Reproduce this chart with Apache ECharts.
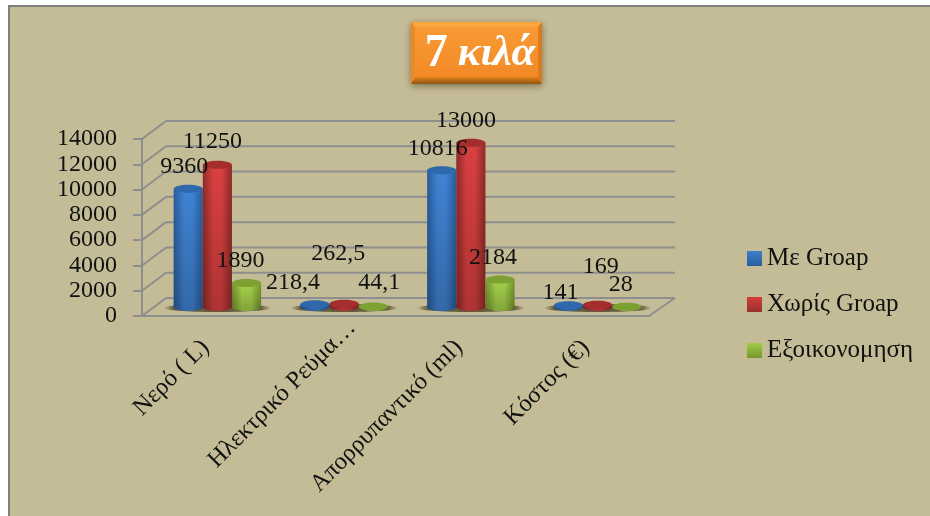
<!DOCTYPE html>
<html>
<head>
<meta charset="utf-8">
<style>
html,body{margin:0;padding:0;background:#fff;}
#main{width:930px;height:516px;}
</style>
<script src="https://cdn.jsdelivr.net/npm/echarts@6/dist/echarts.min.js"></script>
</head>
<body>
<div id="main"></div>
<script>
var categories = ['Νερό ( L)', 'Ηλεκτρικό Ρεύμα…', 'Απορρυπαντικό (ml)', 'Κόστος (€)'];
var withGroap = [9360, 218.4, 10816, 141];
var withoutGroap = [11250, 262.5, 13000, 169];
var saving = [1890, 44.1, 2184, 28];
var seriesNames = ['Με Groap', 'Χωρίς Groap', 'Εξοικονομηση'];
var yTicks = [0, 2000, 4000, 6000, 8000, 10000, 12000, 14000];

// fake 3d: how far the back wall sits from the front of the floor
var depthX = 24, depthY = 18;
var barShare = 0.23;
var serif = '"Liberation Serif", serif';
var gridColor = '#8e8e8e';

// label nudges from the default spot above each cylinder, [dx, dy]
var labelNudge = [
  [[-4, 0], [-5, -1], [-6, 0]],
  [[-22, 0], [-6, -28], [6, -2]],
  [[-4, 0], [-5, 0], [-7, 0]],
  [[-8, 9], [3, -16], [-6, 0]]
];

var palette = [
  { edge: '#2a5c9c', mid: '#3f83d3', top: '#2f68ad', legend: ['#3f7fcb', '#2a5c9c'] },
  { edge: '#8e2b29', mid: '#da4040', top: '#a32e2c', legend: ['#d43d3b', '#98302c'] },
  { edge: '#76962f', mid: '#a6d34c', top: '#7da032', legend: ['#a2cc48', '#76962f'] }
];

function hGrad(c) {
  return new echarts.graphic.LinearGradient(0, 0, 1, 0, [
    { offset: 0, color: c.edge },
    { offset: 0.35, color: c.mid },
    { offset: 0.65, color: c.mid },
    { offset: 1, color: c.edge }
  ]);
}

function cylinder(idx) {
  return function (params, api) {
    var cat = api.value(0);
    var base = api.coord([cat, 0]);
    var top = api.coord([cat, api.value(1)]);
    var band = api.size([1, 0])[0];
    var w = band * barShare;
    var cx = base[0] + depthX / 2 + (idx - 1) * w;
    var by = base[1] - depthY / 2;
    var ty = top[1] - depthY / 2;
    var rx = w / 2, ry = 4;
    var c = palette[idx];
    return {
      type: 'group',
      children: [
        { type: 'ellipse', shape: { cx: cx, cy: by, rx: rx, ry: ry }, style: { fill: hGrad(c) } },
        { type: 'ellipse', shape: { cx: cx, cy: by, rx: rx, ry: ry }, style: { fill: 'rgba(0,0,0,0.2)' } },
        { type: 'rect', shape: { x: cx - rx, y: ty, width: w, height: by - ty }, style: { fill: hGrad(c) } },
        {
          type: 'rect', shape: { x: cx - rx, y: ty, width: w, height: by - ty },
          style: {
            fill: new echarts.graphic.LinearGradient(0, 0, 0, 1, [
              { offset: 0, color: 'rgba(0,0,0,0)' },
              { offset: 1, color: 'rgba(0,0,0,0.2)' }
            ])
          }
        },
        { type: 'ellipse', shape: { cx: cx, cy: ty, rx: rx, ry: ry }, style: { fill: c.top } }
      ]
    };
  };
}

function renderWall(params, api) {
  var v = api.value(0);
  var p = api.coord([0, v]);
  var x0 = params.coordSys.x, x1 = x0 + params.coordSys.width;
  var line = { stroke: gridColor, lineWidth: 2 };
  var kids = [
    { type: 'line', shape: { x1: x0, y1: p[1], x2: x0 + depthX, y2: p[1] - depthY }, style: line },
    { type: 'line', shape: { x1: x0 + depthX, y1: p[1] - depthY, x2: x1 + depthX + 2, y2: p[1] - depthY }, style: line }
  ];
  if (v === 0) {
    kids.push({ type: 'line', shape: { x1: x1, y1: p[1], x2: x1 + depthX + 2, y2: p[1] - depthY }, style: line });
  }
  return { type: 'group', children: kids };
}

// soft dark pool under each group of cylinders
function renderShadow(params, api) {
  var base = api.coord([api.value(0), 0]);
  return {
    type: 'ellipse',
    shape: { cx: base[0] + depthX / 2, cy: base[1] - depthY / 2 + 1, rx: 54, ry: 4 },
    style: {
      fill: new echarts.graphic.LinearGradient(0, 0, 1, 0, [
        { offset: 0, color: 'rgba(75,68,40,0)' },
        { offset: 0.1, color: 'rgba(75,68,40,0.8)' },
        { offset: 0.9, color: 'rgba(75,68,40,0.8)' },
        { offset: 1, color: 'rgba(75,68,40,0)' }
      ])
    }
  };
}

function renderLabel(params, api) {
  var cat = api.value(0), idx = api.value(1), v = api.value(2);
  var top = api.coord([cat, v]);
  var w = api.size([1, 0])[0] * barShare;
  var nudge = labelNudge[cat][idx];
  return {
    type: 'text',
    style: {
      text: String(v).replace('.', ','),
      x: top[0] + depthX / 2 + (idx - 1) * w + nudge[0],
      y: top[1] - depthY / 2 - 22 + nudge[1],
      textAlign: 'center',
      textVerticalAlign: 'middle',
      fill: '#111',
      font: '24px ' + serif
    }
  };
}

var seriesValues = [withGroap, withoutGroap, saving];
var labelData = [];
categories.forEach(function (c, i) {
  seriesValues.forEach(function (vals, s) {
    labelData.push([i, s, vals[i]]);
  });
});

var series = [
  { type: 'custom', name: 'wall', z: 1, silent: true, renderItem: renderWall, data: yTicks.map(function (t) { return [t]; }), encode: { y: 0 } },
  { type: 'custom', name: 'shadow', z: 1, silent: true, renderItem: renderShadow, data: categories.map(function (c, i) { return [i, 0]; }), encode: { x: 0, y: 1 } }
];
seriesNames.forEach(function (name, s) {
  series.push({
    type: 'custom',
    name: name,
    z: 2,
    renderItem: cylinder(s),
    itemStyle: {
      color: new echarts.graphic.LinearGradient(0, 0, 0, 1, [
        { offset: 0, color: palette[s].legend[0] },
        { offset: 1, color: palette[s].legend[1] }
      ])
    },
    data: seriesValues[s].map(function (v, i) { return [i, v]; }),
    encode: { x: 0, y: 1 }
  });
});
series.push({ type: 'custom', name: 'labels', z: 5, silent: true, renderItem: renderLabel, data: labelData, encode: { x: 0, y: 2 } });

var chart = echarts.init(document.getElementById('main'));
chart.setOption({
  animation: false,
  backgroundColor: '#c4bc96',
  title: {
    text: '{a|7}  {b|κιλά}',
    left: 475,
    top: 26,
    textAlign: 'center',
    z: 20,
    textStyle: {
      rich: {
        a: { fontFamily: serif, fontSize: 46, fontWeight: 'bold', color: '#fff' },
        b: { fontFamily: serif, fontSize: 43, fontWeight: 'bold', fontStyle: 'italic', color: '#fff' }
      }
    }
  },
  legend: {
    data: seriesNames,
    orient: 'vertical',
    left: 742,
    top: 241,
    icon: 'rect',
    itemWidth: 15,
    itemHeight: 15,
    itemGap: 21,
    textStyle: { fontFamily: serif, fontSize: 25, color: '#111' }
  },
  grid: { left: 142, top: 139, width: 507, height: 177 },
  xAxis: {
    type: 'category',
    data: categories.map(function (c, i) {
      // the cut-off label runs further up towards the axis than the others
      return i === 1 ? { value: c, textStyle: { padding: [0, -28, 0, 0] } } : c;
    }),
    axisLine: { lineStyle: { color: gridColor, width: 2 } },
    axisTick: { length: 7, lineStyle: { color: gridColor, width: 2 } },
    axisLabel: { rotate: 45, interval: 0, margin: 28, fontFamily: serif, fontSize: 24.5, color: '#111' }
  },
  yAxis: {
    type: 'value',
    min: 0,
    max: 14000,
    interval: 2000,
    splitLine: { show: false },
    axisLine: { show: true, lineStyle: { color: gridColor, width: 2 } },
    axisTick: { show: true, length: 9, lineStyle: { color: gridColor, width: 2 } },
    axisLabel: { margin: 25, fontFamily: serif, fontSize: 24, color: '#111', formatter: function (v) { return String(v); } }
  },
  graphic: [
    { type: 'rect', z: -1, shape: { x: 0, y: 0, width: 930, height: 5 }, style: { fill: '#fff' } },
    { type: 'rect', z: -1, shape: { x: 0, y: 0, width: 8, height: 516 }, style: { fill: '#fff' } },
    { type: 'rect', z: -1, shape: { x: 8, y: 5, width: 922, height: 2 }, style: { fill: '#7f7f7f' } },
    { type: 'rect', z: -1, shape: { x: 8, y: 5, width: 2, height: 511 }, style: { fill: '#7f7f7f' } },
    // orange bevelled badge behind the title
    {
      type: 'rect', z: 10,
      shape: { x: 411, y: 22, width: 131, height: 62 },
      style: { fill: '#f58f2c', shadowBlur: 7, shadowOffsetY: 2, shadowColor: 'rgba(60,50,20,0.55)' }
    },
    { type: 'polygon', z: 11, shape: { points: [[411, 22], [542, 22], [538, 27], [415, 27]] }, style: { fill: '#fba63e' } },
    {
      type: 'polygon', z: 11, shape: { points: [[411, 84], [542, 84], [538, 77], [415, 77]] },
      style: {
        fill: new echarts.graphic.LinearGradient(0, 0, 0, 1, [
          { offset: 0, color: '#e2801f' },
          { offset: 1, color: '#8f5512' }
        ])
      }
    },
    { type: 'polygon', z: 11, shape: { points: [[411, 22], [415, 27], [415, 77], [411, 84]] }, style: { fill: '#ec8726' } },
    { type: 'polygon', z: 11, shape: { points: [[542, 22], [538, 27], [538, 77], [542, 84]] }, style: { fill: '#d97c1f' } },
    {
      type: 'rect', z: 11, shape: { x: 415, y: 27, width: 123, height: 50 },
      style: {
        fill: new echarts.graphic.LinearGradient(0, 0, 0, 1, [
          { offset: 0, color: '#f99a35' },
          { offset: 1, color: '#f28a26' }
        ])
      }
    }
  ],
  series: series
});
</script>
</body>
</html>
